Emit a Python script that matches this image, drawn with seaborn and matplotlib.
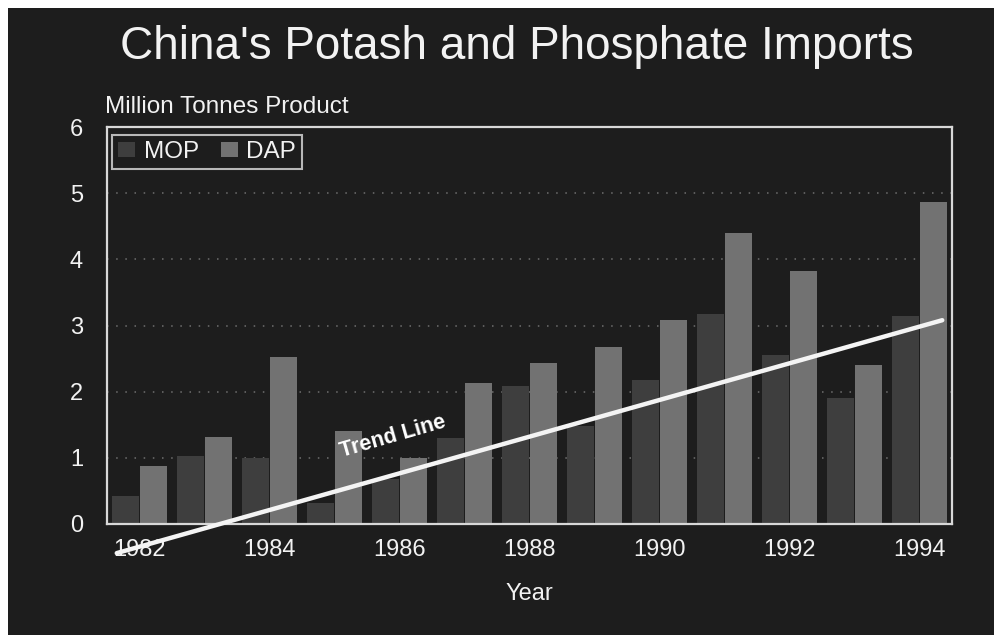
import matplotlib
matplotlib.use("Agg")
import matplotlib.pyplot as plt
import seaborn as sns
import pandas as pd
from matplotlib.patches import Rectangle

years = ["1982", "1983", "1984", "1985", "1986", "1987", "1988",
         "1989", "1990", "1991", "1992", "1993", "1994"]
mop = [0.42, 1.03, 1.00, 0.32, 0.68, 1.30, 2.08, 1.48, 2.18, 3.17, 2.56, 1.90, 3.14]
dap = [0.87, 1.32, 2.53, 1.41, 1.00, 2.13, 2.43, 2.67, 3.09, 4.40, 3.82, 2.41, 4.86]
series_names = ["MOP", "DAP"]
tick_years = ["1982", "1984", "1986", "1988", "1990", "1992", "1994"]
trend_x = [-0.35, 12.35]
trend_y = [-0.44, 3.08]

BG = "#1d1d1d"
FG = "#f2f2f2"

sns.set_theme(style="dark")
plt.rcParams["font.family"] = ["Liberation Sans", "DejaVu Sans"]

df = pd.DataFrame({
    "Year": years * 2,
    "Series": [series_names[0]] * len(years) + [series_names[1]] * len(years),
    "Value": mop + dap,
})

fig = plt.figure(figsize=(9.94, 6.35), dpi=100)
fig.patch.set_facecolor(BG)
# thin light scan border on top and left
fig.patches.append(Rectangle((0, 1 - 8 / 635), 1, 8 / 635, transform=fig.transFigure,
                             facecolor="white", edgecolor="none", zorder=-10))
fig.patches.append(Rectangle((0, 0), 8 / 994, 1, transform=fig.transFigure,
                             facecolor="white", edgecolor="none", zorder=-10))

ax = fig.add_axes([107 / 994, 1 - 524 / 635, (952 - 107) / 994, (524 - 127) / 635])
ax.set_facecolor(BG)
ax.set_zorder(2)

sns.barplot(data=df, x="Year", y="Value", hue="Series",
            palette={"MOP": "#3e3e3e", "DAP": "#727272"},
            width=0.87, gap=0.05, saturation=1, ax=ax, zorder=2,
            linewidth=0, edgecolor="none")

ax.set_xlim(-0.5, 12.5)
ax.set_ylim(0, 6)
ax.set_yticks(range(0, 7))
ax.set_xticks([years.index(y) for y in tick_years])
ax.set_xticklabels(tick_years)
ax.tick_params(axis="both", colors=FG, labelsize=17, length=0, pad=11)
ax.tick_params(axis="y", pad=22)
for lab in ax.get_yticklabels():
    lab.set_horizontalalignment("center")

ax.grid(False)
for yv in range(1, 6):
    ax.axhline(yv, color="#6f6f6f", lw=1.1, linestyle=(0, (1, 5)), zorder=1)

for s in ax.spines.values():
    s.set_visible(True)
    s.set_color("#d8d8d8")
    s.set_linewidth(1.6)

ax.set_xlabel("Year", color=FG, fontsize=17, labelpad=16)
ax.set_ylabel("")

# trend line
ax.plot(trend_x, trend_y, color="#f4f4f4", lw=3.2, solid_capstyle="round",
        clip_on=False, zorder=5)
ax.text(3.9, 1.32, "Trend Line", color="white", fontsize=15.5, fontweight="bold",
        rotation=16, ha="center", va="center", zorder=6)

leg = ax.legend(ncol=2, loc="upper left", bbox_to_anchor=(0.006, 0.98),
                frameon=True, fancybox=False, facecolor=BG, edgecolor="#e0e0e0",
                fontsize=17.5, handlelength=0.7, handleheight=0.6,
                handletextpad=0.35, columnspacing=0.9, borderpad=0.25,
                borderaxespad=0.0)
leg.get_frame().set_linewidth(1.5)
for t in leg.get_texts():
    t.set_color(FG)
for h in leg.legend_handles:
    h.set_edgecolor("none")
    h.set_linewidth(0)
leg.set_title(None)

fig.text(105 / 994, 1 - 107 / 635, "Million Tonnes Product", color=FG,
         fontsize=17.5, ha="left", va="center")
fig.text(517 / 994, 1 - 47 / 635, "China's Potash and Phosphate Imports",
         color=FG, fontsize=33, ha="center", va="center")

fig.savefig("out.png", dpi=100, facecolor=fig.get_facecolor())
